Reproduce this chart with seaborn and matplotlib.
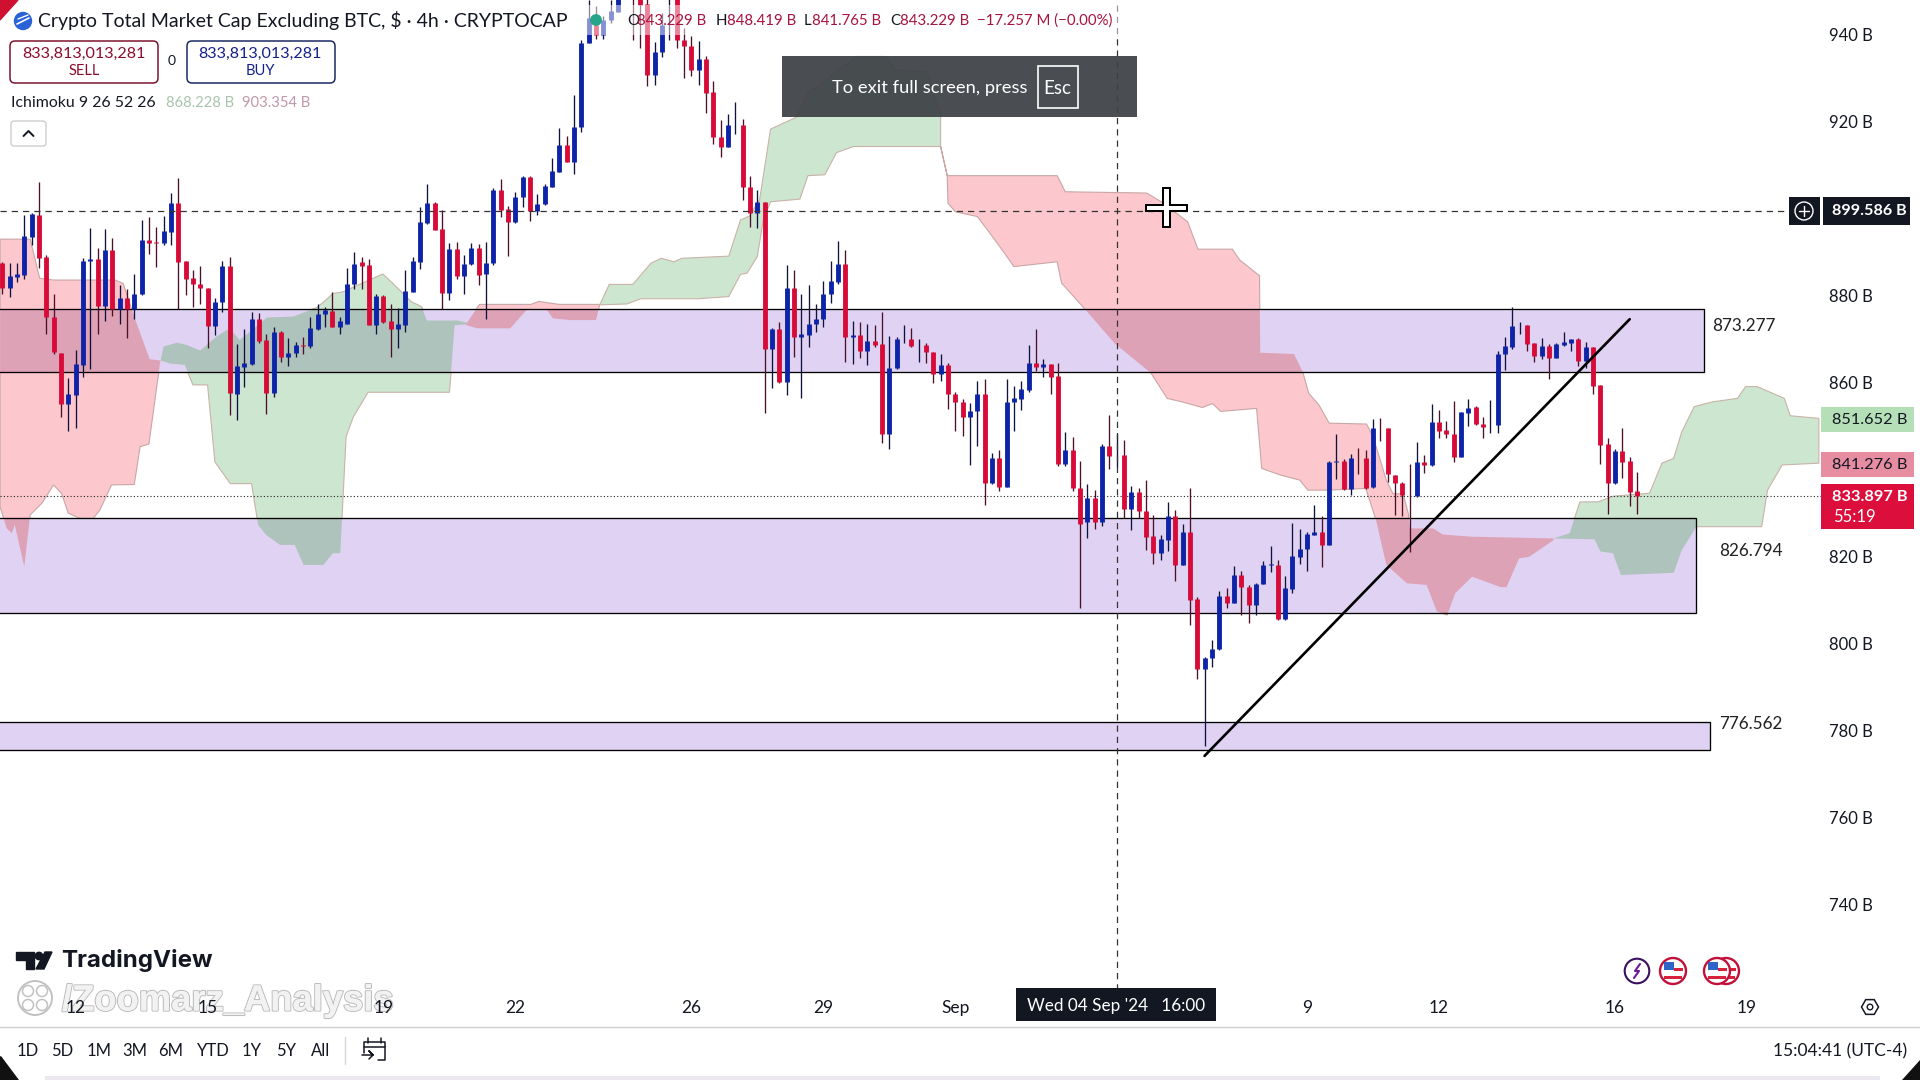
import numpy as np
import pandas as pd
import matplotlib
matplotlib.use("Agg")
import matplotlib.pyplot as plt
import matplotlib.patheffects as pe
from matplotlib.patches import Rectangle, Polygon, Circle, FancyBboxPatch
import seaborn as sns

# ── Candles (4h bars, billions) ──
bar_open = [887.6,881.7,884.4,884.8,893.6,898.6,888.8,875,866.8,855,857.2,864.1,887.9,888.4,877.7,890.4,876.9,879.4,876.9,880.4,
 892.8,892.3,892.2,894.7,901.2,888,884,882.8,881.7,873.1,878.5,886.8,857.5,863.7,864.3,874.6,869.8,857.7,871.7,865.8,
 866.8,868.6,868.4,872.4,875.9,876.5,872.9,873.6,882.8,887.7,887,873.3,879.9,874.1,872.3,873.3,880.9,887.8,896.8,901.4,
 895.3,880.7,890.7,884.5,887.3,890.9,884.9,887.5,904.3,899.9,897,902.6,907.3,899.4,901,905.1,908.5,914.7,910.8,918.7,
 938,942.3,940,943.4,945.3,952,952,950,947,930.8,936.1,948.5,948.5,938.8,937.4,931.9,934.4,926.8,916.4,914.3,
 919.2,919.2,905.1,899,901.5,867.7,872.3,860.2,881.7,870.4,871,873.6,874.6,880.5,883.2,887.4,870.4,870.9,867.4,869.7,
 868.9,848.1,863.3,870,870,868.6,868.6,867,861.9,864,857.3,855.5,852.2,853.6,857.3,836.9,842.8,836.1,855.6,856.3,
 858.3,864.5,863.6,864.2,861.5,841.3,844.5,835.9,827.9,833.5,828,845.4,843.3,843.4,831,834.8,830.6,824.7,820.9,823.8,
 829.3,818.1,825.6,810.3,794.2,796.8,798.7,810.9,809.4,815.8,813.1,809,813.8,818.2,818.2,805.7,812.6,820,821.7,825.1,
 825.7,822.8,841.7,842.1,835.5,842.8,842.8,836.1,849.7,849.5,838.8,837,834.2,833.9,841.7,841,850.9,849.1,848.1,843,
 853.1,854.5,850.4,850.4,850.3,866.7,868.3,873.2,873.2,869.1,866.2,868.4,865.7,868.7,869.2,870,865,868.3,859.4,845.9,
 837,844.3,841.9,835]
bar_high = [887.8,887.6,887.6,898.6,898.9,906.1,889.4,880.5,866.9,861,867.5,888.6,895.5,890.9,895.3,893.2,882.5,881.5,885,897.4,
 898,895.9,898.3,903.7,907,888,886,886.8,881.7,879.4,888,888.8,868.9,872.3,876.3,876.1,871.2,872.9,872,870.2,
 869.4,870.6,875,878.1,877.3,880.8,875,886.3,890.1,888.8,888.4,880.4,880.2,878.2,877.1,885.9,888.8,900.3,905.7,901.6,
 899.7,892.2,892.4,889.4,892.2,892,892.4,904.7,906.9,900.7,903.9,907.6,907.6,903.4,905.7,911.7,918.5,916.7,926.2,938.8,
 948,946.7,944.3,948,952,956,953,952,948.5,938.4,945,951,950,941.5,939.7,938.6,935.1,929.4,920.4,921.7,
 924.6,920.6,907.5,904.3,901.5,872.5,874,887,885.8,880.4,882.5,878.1,883.4,888,892.6,890.5,874.2,874,873.5,873.3,
 876.3,870.7,870.6,873.3,872.5,870,869.2,867,866.7,864.6,857.9,856.2,855.3,860.4,860.8,843.8,844.5,860.8,859.2,860.4,
 868.7,872.3,865.4,864.2,864.6,848.7,847.6,842,836.7,835.3,845.8,852.6,848.3,846.8,836.2,835.9,837.6,829.6,825,832.6,
 830.7,827.5,835.7,810.8,797,800.8,812.1,812.7,817.9,816.7,813.5,814,819,822.4,819.2,815.5,827.8,826.3,825.7,831.9,
 829.3,842,848.3,842.4,843.7,844.9,844.5,851.6,851.9,849.5,838.8,837.2,841.4,846.4,843.4,855,853.7,851.2,855.8,853.3,
 856.2,854.6,852.2,856,867.4,870.6,877.3,874,873.2,869.1,870.2,869,869.2,871.7,870,870.2,869.3,868.3,859.4,847.2,
 844.7,849.5,843,839.4]
bar_low = [880.5,879.8,883.2,883.9,891.7,886.3,871.3,866.6,852.2,849,849.5,861.4,863.2,871.2,874.3,875.4,873.5,870.2,874.6,880.2,
 889.7,886.7,891.7,891.7,876.9,880.2,877.5,878.1,867.9,871,876.3,852.6,851.4,859.1,864.1,869.2,852.8,856.6,864.8,863.9,
 866,866.6,867.9,872.1,872.9,872.7,871.3,873.5,881.5,881.5,873.3,871.3,873.8,865.8,867.9,871.7,880.8,886.1,896.5,895,
 876.9,879,883.8,880.4,887,882.5,874.6,887,898.2,889.1,896.7,900.5,897.2,898.6,900.9,904.9,908.5,910.8,908,917.7,
 938,939,939,942.6,945.3,950,938.8,936.9,928.3,928.5,934.8,938.8,937,930,930.5,928.5,921.9,914.9,911.8,914.3,
 917.2,902,895.9,895.5,853.1,858.7,859.9,857.2,865.8,856.4,868.3,871.7,872.9,878.4,882.8,864.8,864.3,865.6,864.1,868.1,
 846.2,844.8,863.1,869.2,868.1,864.8,864.6,859.9,860.5,854,849,847.7,841.1,845.5,831.9,836.7,835,836.1,849,853.7,
 857.9,862.8,861.4,857.4,840.8,840.8,835,808.1,824.4,826.3,827,840.1,840.7,828.8,826.1,828.8,821.5,818.3,819.2,821.4,
 814.4,818,804.3,791.8,776.5,794.7,798.5,808.3,809.3,806.7,804.8,806.7,813.7,816.5,805.4,805.4,811.6,818.3,816.7,825,
 817.7,822.7,837.8,835.3,834.2,839,835.5,835.9,846.7,837.2,829.6,829.4,821.1,833.8,839.3,840.8,847.4,847.2,841.8,843,
 850,850.3,847.2,848.5,848.5,862.9,867.7,871.2,867.3,864.7,865.4,860.8,865.6,868.5,867.3,863.8,863.3,857.5,841.3,829.8,
 836.7,838.2,831.6,829.8]
bar_close = [881.7,884.5,885,893.7,898.7,888.7,875,867,855,857.3,864.2,888,888.4,877.7,890.4,876.9,879.4,876.9,880.5,892.8,
 892.2,892.2,894.8,901.2,887.8,883.9,882.8,881.7,873.1,878.5,886.8,857.6,863.8,864.5,874.6,869.5,857.7,871.7,865.8,866.8,
 868.7,868.5,872.6,875.9,876.6,872.9,874.2,882.8,887.4,886.9,873.3,879.9,874,872.3,873.4,881.1,888,896.9,901.4,895.1,
 880.7,890.7,884.5,887.4,890.9,884.8,887.5,904.3,899.7,897,902.6,907.3,899.4,901,905.2,908.6,914.7,910.8,918.7,938,
 943.8,940,943.4,945.5,950,954,950,946.9,930.8,936,942.3,949,938.7,937.3,931.9,934.4,926.7,916.4,914.3,919.2,
 919.3,905.1,899,901.5,867.7,872.3,860.1,881.7,870.4,871.1,873.6,874.6,880.5,883.3,887.4,870.4,871,867.4,869.7,868.7,
 848.1,863.3,870,870.1,868.4,868.7,867,861.9,864,857.3,855.5,852.2,853.6,857.3,836.9,842.8,836.1,855.6,856.4,858.5,
 864.5,863.6,864.2,861.4,841.3,844.5,835.9,827.5,833.5,828,845.4,843.2,843.4,831,834.8,830.6,824.6,820.9,824,829.3,
 818.1,825.6,810,794.2,796.8,798.7,810.9,809.4,815.8,813.1,809,813.8,818,818.3,805.7,812.7,820.1,821.7,825.2,825.7,
 822.8,841.7,842.1,835.5,842.8,842.7,835.9,849.7,849.6,838.9,837,834.2,834.1,841.7,841,850.9,849,848.1,843,853.2,
 854.3,850.4,849.9,850.5,866.7,868.4,873,873.3,868.9,866.2,868.4,865.7,868.8,869.3,870.1,865,868.1,859.3,845.7,837,
 844.3,841.8,834.9,833.9]

# ── Ichimoku cloud outlines: bar position / price ──
red_a_x = [-0.3,3.8,5.1,7,15.4,16.5,17.9,20.1,21.6,21.5,20,18.8,18,14.9,13.3,12.4,10.6,9,8.1,7,5.4,3.8,3,1.7,1.3,0.6,-0.3]
red_a_y = [893,893,884,883.6,883.6,882.8,875.6,865.4,865.1,864.4,845.9,845.3,836.6,836.5,830.7,828.8,828.8,830,834.5,836.5,832.3,829.6,817.7,827.3,825.4,826.5,831.5]
green_b_x = [21.6,22,23.8,25.1,27,29.2,31,32.4,36.1,39.7,42.9,44,45.1,46.5,49,51.9,53.3,55.8,57.2,57.9,62,64.2,61.7,61,49.9,47.9,46.9,46.1,45.1,43.8,41.1,39.9,37.9,36,34.9,34,31.1,29,28,26,24.9,22.9]
green_b_y = [865.1,868.3,869.2,868.7,867.4,870.6,872.5,869.8,875,875.2,877.3,878.8,880.5,880.9,882.8,885,882.8,878.6,877.5,874.3,874.3,873.5,873.2,857.8,857.8,852.2,847.6,820.8,820.8,818.1,818.1,822.7,822.7,825,827.3,836.8,836.8,841.8,859.5,859.5,864.1,864.4]
red_c_x = [63.2,65.1,72.1,73.2,74.3,76,81.5,81,77.4,75.1,74.3,71.5,69.3,64.8]
red_c_y = [873.3,878,878,878.7,878.4,878,878,874.4,874.4,874.8,876.7,876.7,872.5,872.5]
green_d_x = [81.5,82.8,86,88.5,89.9,91.6,92.7,99.1,100.7,101.9,103.3,104.8,108.3,109.9,116.6,120.5,121.9,126.1,128,128,116.1,113.8,112.2,109.9,108.8,104.8,103.8,103,101.6,100.7,99.1,94.9,87.1,85.2]
green_d_y = [877.9,882.6,882.6,887.5,888.6,887.8,888.6,889.1,897.4,898.3,902,918.3,921,926.5,935,935,931.9,931.5,921.6,914.3,914.3,912.9,907.8,907.6,902.2,901.6,897.4,889,885.2,884.9,879.8,879.3,879.3,878.1]
red_e_x = [128,128.9,143.9,145,156.1,158.1,161.7,163.1,167.8,168.8,171.5,171.6,176.2,177.4,178.2,179.6,181,186.1,187,188.8,189.7,191.1,191.8,192,195.2,196.5,200.5,211.6,
 211.6,208.3,206.9,205.2,204.4,200.5,198.2,197.1,195.7,194.3,191.6,188.8,187.4,186,180.9,178.1,177,174.3,171.8,171.1,166.2,165.1,163.7,160.9,158.9,156.7,151.7,147.8,144.5,143.9,138,136.7,134.4,133,130,129,128.9]
red_e_y = [914.3,907.6,907.6,903.9,903.6,901.6,897,890.7,890.7,888.2,884.6,866.9,866.6,862.5,857.6,854.9,850.7,850.5,847.6,837.6,834.5,834.4,829.9,826.5,826.5,825.1,824.6,824.2,
 823.8,820,819.6,813,813,815.4,811.6,806.6,807.4,813.5,813.9,818.1,828.4,835.7,835.3,835.3,837.6,838.8,840.3,854.1,853.4,855.2,854.3,855.6,856.4,862.2,869.1,876.7,882.9,887.8,886.7,889.8,895.1,898.2,899.3,901.3,907.6]
green_f_x = [211.6,213.8,214.7,215.2,217.7,219.7,224.7,226.4,228,229.1,230.8,233.3,236.7,237.8,239.4,243.1,243.9,247.8,247.8,242.8,240.8,240,231.1,229.1,228,220.8,219.7,218,217.2]
green_f_y = [824.2,825.4,830,832.6,832.6,833.9,834.6,841.5,842.6,848.7,854.5,855.6,856.4,859.1,859.1,856.4,852.4,851.8,841.5,841.1,835.3,826.9,826.9,821.5,816.3,815.8,820.8,821.2,824]

# ── Zones, trend line, levels ──
zone_top = [876.9, 828.8, 782.0]
zone_bottom = [862.5, 807.0, 775.5]
zone_right = [232.1, 231.0, 233.0]
zone_label = ["873.277", "826.794", "776.562"]
zone_label_bar = [233.3, 234.2, 234.2]
zone_label_price = [873.0, 821.3, 781.5]
trend_bar = [164, 222]
trend_price = [774.2, 874.6]
cross_bar = 152
cross_price = 899.586
last_price = 833.897

price_ticks = [940, 920, 880, 860, 820, 800, 780, 760, 740]
date_ticks = [10, 28, 52, 70, 94, 112, 130, 178, 196, 220, 238]
date_labels = ["12", "15", "19", "22", "26", "29", "Sep", "9", "12", "16", "19"]

RED = "#d80a38"
BLUE = "#0d23a8"
RED_WICK = "#4e0f28"
BLUE_WICK = "#10123e"
CLOUD_RED = "#fcc8cd"
CLOUD_GREEN = "#cde6d0"
OVER_RED = "#dea2b6"
OVER_GREEN = "#afc3bd"
ZONE = "#e0d2f3"

sns.set_theme(style="white")
plt.rcParams["font.family"] = ["Lato", "DejaVu Sans"]

fig = plt.figure(figsize=(19.2, 10.8), dpi=100)
ax = fig.add_axes([0, 0, 1, 1])

# ── Cloud and zones ──
clouds = [(red_a_x, red_a_y, "r"), (green_b_x, green_b_y, "g"), (red_c_x, red_c_y, "r"),
          (green_d_x, green_d_y, "g"), (red_e_x, red_e_y, "r"), (green_f_x, green_f_y, "g")]
for cx, cy, kind in clouds:
    ax.fill(cx, cy, facecolor=CLOUD_RED if kind == "r" else CLOUD_GREEN,
            edgecolor="#c9a6a6" if kind == "r" else "#c9b3a8", linewidth=0.8, zorder=1)

for top, bottom, right in zip(zone_top, zone_bottom, zone_right):
    rect = Rectangle((-5, bottom), right + 5, top - bottom, facecolor=ZONE,
                     edgecolor="none", zorder=2)
    ax.add_patch(rect)
    # cloud seen through the zone
    for cx, cy, kind in clouds:
        over = ax.fill(cx, cy, color=OVER_RED if kind == "r" else OVER_GREEN, linewidth=0, zorder=2.1)[0]
        over.set_clip_path(rect)
    edge = Rectangle((-5, bottom), right + 5, top - bottom, fill=False,
                     edgecolor="black", linewidth=0.95, zorder=2.2)
    ax.add_patch(edge)

ax.axhline(last_price, color="#222222", linewidth=0.8, linestyle=(0, (1, 2)), zorder=2.5, xmax=1821 / 1920)

# ── Candles ──
candles = pd.DataFrame({"bar": np.arange(len(bar_open)), "open": bar_open, "high": bar_high,
                        "low": bar_low, "close": bar_close})
candles["side"] = np.where(candles["close"] >= candles["open"], "up", "down")
wicks = candles.melt(id_vars=["bar", "side"], value_vars=["high", "low"], value_name="price")
bodies = candles.melt(id_vars=["bar", "side"], value_vars=["open", "close"], value_name="price")

sns.lineplot(data=wicks, x="bar", y="price", hue="side", units="bar", estimator=None, ax=ax,
             palette={"up": BLUE_WICK, "down": RED_WICK}, linewidth=0.95, legend=False,
             solid_capstyle="butt", zorder=3)
sns.lineplot(data=bodies, x="bar", y="price", hue="side", units="bar", estimator=None, ax=ax,
             palette={"up": BLUE, "down": RED}, linewidth=3.5, legend=False,
             solid_capstyle="butt", zorder=3.2)

# trend line and crosshair
sns.lineplot(x=trend_bar, y=trend_price, color="black", linewidth=1.9, ax=ax, zorder=4)
ax.axhline(cross_price, color="#333333", linewidth=0.9, linestyle=(0, (5, 4)), zorder=4, xmax=1821 / 1920)
ax.axvline(cross_bar, color="#333333", linewidth=0.9, linestyle=(0, (5, 4)), zorder=4, ymin=1 - 990 / 1080)

ax.set_xlim(-0.314, 261.6)
ax.set_ylim(699.7, 947.98)
ax.set_xlabel("")
ax.set_ylabel("")
ax.set_xticks([])
ax.set_yticks([])
sns.despine(ax=ax, left=True, bottom=True)

# ── Axis labels ──
ytrans = ax.get_yaxis_transform()
for p in price_ticks:
    ax.text(1873 / 1920, p - 0.25, f"{p} B", transform=ytrans, ha="right", va="center", fontsize=12, color="#131722", zorder=6)
for lab, b, p in zip(zone_label, zone_label_bar, zone_label_price):
    ax.text(b, p, lab, ha="left", va="center", fontsize=12.3, color="#222222", zorder=6)

# ── Interface overlay, in pixels ──
ui = fig.add_axes([0, 0, 1, 1], zorder=10)
ui.set_xlim(0, 1920)
ui.set_ylim(1080, 0)
ui.axis("off")


def box(x0, y0, x1, y1, color, alpha=1.0, z=1):
    ui.add_patch(Rectangle((x0, y0), x1 - x0, y1 - y0, facecolor=color, edgecolor="none", alpha=alpha, zorder=z))


def rounded(x0, y0, x1, y1, edge, face="white", r=5, lw=1.1):
    ui.add_patch(FancyBboxPatch((x0 + r, y0 + r), x1 - x0 - 2 * r, y1 - y0 - 2 * r,
                                boxstyle=f"round,pad={r}", facecolor=face, edgecolor=edge, linewidth=lw, zorder=2))


# date ticks sit above the watermark
xtrans = ax.get_xaxis_transform()
for b, lab in zip(date_ticks, date_labels):
    ui.text(b, 1 - 1008 / 1080, lab, transform=xtrans, ha="center", va="center", fontsize=12.5, color="#131722", zorder=6)

# header
box(0, 5, 1125, 35, "white", alpha=0.5)
ui.add_patch(Polygon([(0, 0), (18, 0), (0, 20)], color="#d01030", zorder=3))
ui.add_patch(Circle((23, 21), 8.5, color="#2a62d8", zorder=3))
ui.plot([17, 29], [24, 18], color="white", linewidth=1.2, zorder=4)
ui.plot([18, 28], [19, 15], color="white", linewidth=1.0, zorder=4)
ui.text(38, 21, "Crypto Total Market Cap Excluding BTC, $ · 4h · CRYPTOCAP", fontsize=14, color="#131722", va="center", zorder=4)
ui.add_patch(Circle((596, 20), 5.2, color="#27a58a", zorder=4))
for x, t, c in [(627, "O", "#131722"), (637, "843.229 B", "#a8123e"), (716, "H", "#131722"), (727, "848.419 B", "#a8123e"),
                (804, "L", "#131722"), (812, "841.765 B", "#a8123e"), (890, "C", "#131722"), (900, "843.229 B", "#a8123e"),
                (977, "−17.257 M (−0.00%)", "#a8123e")]:
    ui.text(x, 21, t, fontsize=10.8, color=c, va="center", zorder=4)

rounded(10, 41, 158, 83, "#7c1530")
rounded(187, 41, 335, 83, "#1d2a63")
ui.text(84, 54, "833,813,013,281", fontsize=11.6, color="#8c0c2c", ha="center", va="center", zorder=4)
ui.text(84, 71, "SELL", fontsize=10.5, color="#8c0c2c", ha="center", va="center", zorder=4)
ui.text(260, 54, "833,813,013,281", fontsize=11.6, color="#14208c", ha="center", va="center", zorder=4)
ui.text(260, 71, "BUY", fontsize=10.5, color="#14208c", ha="center", va="center", zorder=4)
ui.text(172, 61, "0", fontsize=10, color="#131722", ha="center", va="center", zorder=4)

ui.text(11, 103, "Ichimoku 9 26 52 26", fontsize=11.4, color="#131722", va="center", zorder=4)
ui.text(166, 103, "868.228 B", fontsize=10.6, color="#a8c4ac", va="center", zorder=4)
ui.text(242, 103, "903.354 B", fontsize=10.6, color="#c097a8", va="center", zorder=4)
rounded(11, 121, 46, 146, "#c8c8c8", r=3, lw=0.9)
ui.plot([23.5, 28.5, 33.5], [136, 131, 136], color="#131722", linewidth=1.4, zorder=4)

# full screen notice
box(782, 56, 1137, 117, "#3f4246", alpha=0.94, z=5)
ui.text(832, 88, "To exit full screen, press", fontsize=13.2, color="white", va="center", zorder=6)
ui.add_patch(Rectangle((1037.5, 66), 40, 42, facecolor="none", edgecolor="white", linewidth=1.2, zorder=6))
ui.text(1057.5, 88, "Esc", fontsize=13.5, color="white", ha="center", va="center", zorder=6)

# mouse cursor
box(1145, 204, 1188, 212, "black", z=7)
box(1162, 187, 1171, 228, "black", z=7)
box(1147, 206, 1186, 210, "white", z=8)
box(1164, 189, 1169, 226, "white", z=8)

# price labels
box(1789, 197, 1820, 225, "#131722", z=5)
ui.add_patch(Circle((1804, 211), 9, facecolor="none", edgecolor="white", linewidth=1, zorder=6))
ui.plot([1799, 1809], [211, 211], color="white", linewidth=1, zorder=6)
ui.plot([1804, 1804], [206, 216], color="white", linewidth=1, zorder=6)
box(1823, 197, 1910, 225, "#131722", z=5)
ui.text(1869, 211, "899.586 B", fontsize=11.6, fontweight="bold", color="white", ha="center", va="center", zorder=6)
box(1821, 407, 1914, 432, "#b5dfb6", z=5)
ui.text(1870, 420, "851.652 B", fontsize=11.8, color="#131722", ha="center", va="center", zorder=6)
box(1821, 452, 1914, 477, "#e78da1", z=5)
ui.text(1870, 465, "841.276 B", fontsize=11.8, color="#131722", ha="center", va="center", zorder=6)
box(1821, 484, 1914, 529, "#dc0f3c", z=5)
ui.text(1870, 497, "833.897 B", fontsize=11.8, fontweight="bold", color="white", ha="center", va="center", zorder=6)
ui.text(1833, 517, "55:19", fontsize=12, color="white", va="center", zorder=6)

# date label under the crosshair
box(1016, 988, 1216, 1021, "#131722", z=5)
ui.text(1116, 1006, "Wed 04 Sep '24   16:00", fontsize=12.3, color="white", ha="center", va="center", zorder=6)

# branding
ui.add_patch(Polygon([(15.5, 952), (34, 952), (34, 969), (26, 969), (26, 960), (15.5, 960)], color="#131722", zorder=4))
ui.add_patch(Circle((39, 956), 3.7, color="#131722", zorder=4))
ui.add_patch(Polygon([(45, 952), (52, 952), (44, 969), (36, 969)], color="#131722", zorder=4))
ui.text(61, 961, "TradingView", fontsize=17.4, fontweight="bold", family="Inter", color="#131722", va="center", zorder=4)
wm = ui.text(62, 1001, "/Zoomarz_Analysis", fontsize=26.2, fontweight="bold", family="Liberation Sans",
             color="#f2f2f2", va="center", zorder=3)
wm.set_path_effects([pe.withStroke(linewidth=1.6, foreground="#bdbdbd"), pe.Normal()])
ui.add_patch(Circle((35, 998), 17, facecolor="white", edgecolor="#c2c2c2", linewidth=1.4, zorder=3))
for dx, dy in [(-7, -7), (7, -7), (-7, 7), (7, 7)]:
    ui.add_patch(Circle((35 + dx, 998 + dy), 5.5, facecolor="white", edgecolor="#c2c2c2", linewidth=1.1, zorder=3))

# event icons
ui.add_patch(Circle((1637, 971), 12.3, facecolor="white", edgecolor="#3a1060", linewidth=1.5, zorder=4))
ui.plot([1640, 1635, 1639, 1634], [964, 971, 971, 978], color="#6a1a9a", linewidth=1.5, zorder=5)
for fx, z in [(1726, 4), (1717, 4.2), (1673, 4)]:
    ui.add_patch(Circle((fx, 971), 13, facecolor="white", edgecolor="#c0103a", linewidth=1.7, zorder=z))
    ui.add_patch(Rectangle((fx - 9, 962), 10, 8, facecolor="#2e64c8", edgecolor="none", zorder=z))
    ui.add_patch(Rectangle((fx - 9, 976), 18, 3, facecolor="#d8223c", edgecolor="none", zorder=z))
    ui.add_patch(Rectangle((fx + 1, 968), 9, 3, facecolor="#d8223c", edgecolor="none", zorder=z))

# gear
hex_t = np.deg2rad(np.arange(0, 360, 60))
ui.add_patch(Polygon(np.c_[1870 + 8.5 * np.cos(hex_t), 1007 + 8.5 * np.sin(hex_t)], facecolor="white", edgecolor="#131722", linewidth=1.1, zorder=5))
ui.add_patch(Circle((1870, 1007), 2.8, facecolor="white", edgecolor="#131722", linewidth=1, zorder=6))

# bottom bar
box(0, 1027, 1920, 1080, "white", z=1)
ui.plot([0, 1920], [1026.7, 1026.7], color="#cfcfcf", linewidth=1, zorder=2)
for x, t in zip([28, 62, 99, 135, 171, 213, 252, 286.5, 321], ["1D", "5D", "1M", "3M", "6M", "YTD", "1Y", "5Y", "All"]):
    ui.text(x, 1051, t, fontsize=12, color="#131722", ha="center", va="center", zorder=3)
ui.plot([345, 345], [1037, 1064], color="#d6d6d6", linewidth=1, zorder=3)
ui.plot([364, 364, 385, 385, 378], [1053, 1042, 1042, 1060, 1060], color="#131722", linewidth=1.1, zorder=3)
ui.plot([364, 385], [1047, 1047], color="#131722", linewidth=1.1, zorder=3)
ui.plot([368, 368], [1038, 1043], color="#131722", linewidth=1.1, zorder=3)
ui.plot([381, 381], [1038, 1043], color="#131722", linewidth=1.1, zorder=3)
ui.plot([362, 373, 369, 373, 369], [1055, 1055, 1051, 1055, 1059], color="#131722", linewidth=1.1, zorder=3)
ui.text(1907, 1051, "15:04:41 (UTC-4)", fontsize=12.5, color="#131722", ha="right", va="center", zorder=3)

box(45, 1076, 1880, 1080, "#ece8ef", z=2)
ui.add_patch(Polygon([(0, 1056), (0, 1080), (18, 1080)], color="#111111", zorder=3))
ui.add_patch(Polygon([(1920, 1060), (1920, 1080), (1902, 1080)], color="#111111", zorder=3))

fig.savefig("out.png", dpi=100)
